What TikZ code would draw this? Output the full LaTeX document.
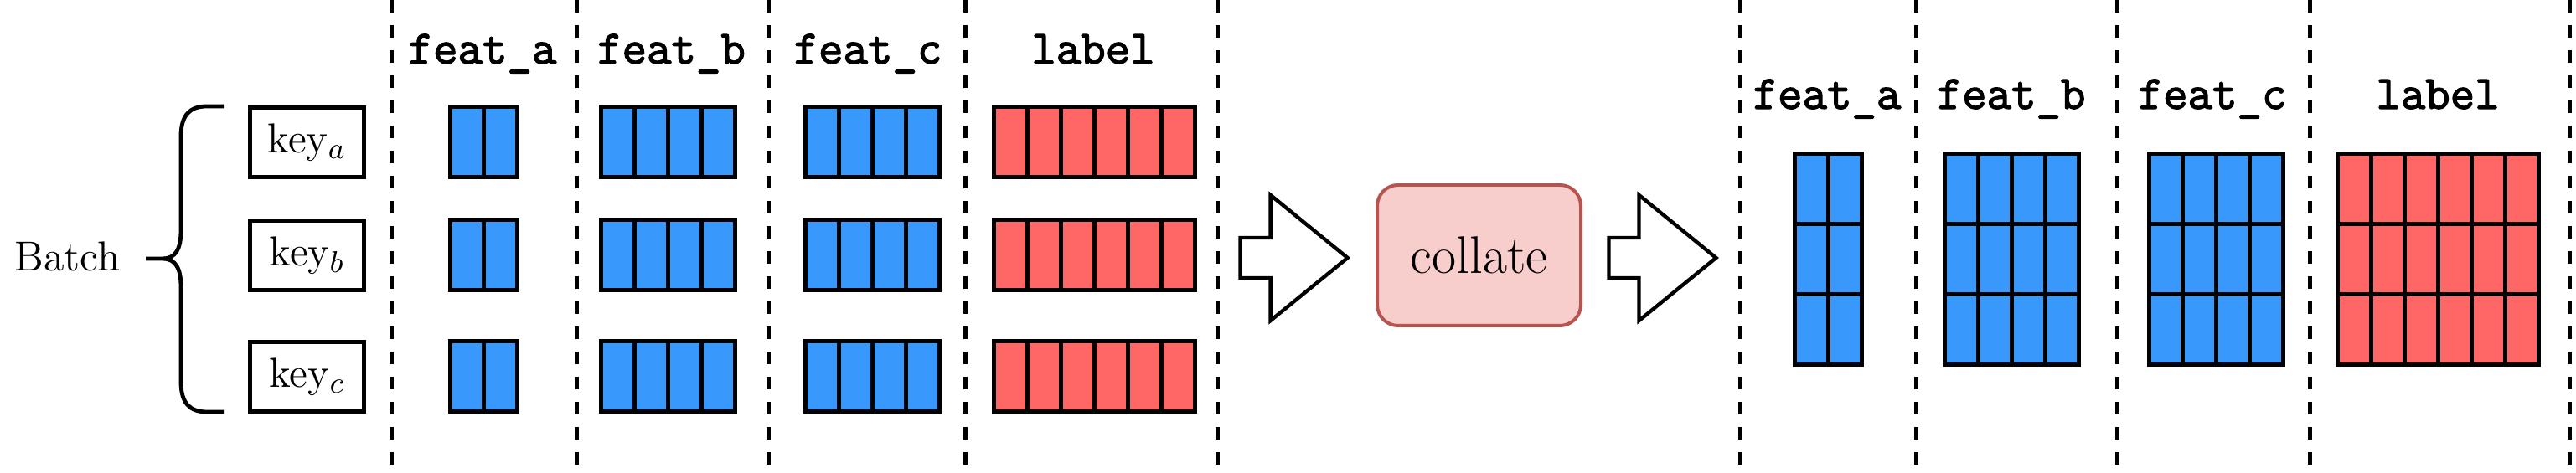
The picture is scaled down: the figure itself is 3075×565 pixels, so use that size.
\documentclass[tikz,border=0pt]{standalone}
\usepackage{fontspec}
\newfontfamily\codefont{Latin Modern Mono}[AutoFakeBold=2.2]
\definecolor{featblue}{HTML}{3898FC}
\definecolor{labelred}{HTML}{FF6666}
\definecolor{collatefill}{HTML}{F8CECC}
\definecolor{collatedraw}{HTML}{B85450}
\tikzset{
    cell/.style={draw=black, line width=1.25pt, fill=#1},
    keybox/.style={draw, line width=1.2pt, minimum width=34pt,
        minimum height=20.75pt, inner sep=0pt, font=\fontsize{12.5}{15}\selectfont},
    header/.style={anchor=base, inner sep=0pt,
        font=\codefont\bfseries\fontsize{14.3}{17}\selectfont},
    separator/.style={line width=1.25pt, dash pattern=on 3.75pt off 3.75pt},
    bigarrow/.style={draw, line width=1.1pt, fill=white, line join=miter},
    pics/blockarrow/.style={code={
        \draw[bigarrow] (0,24) -- (36,24) -- (36,75) -- (128,0)
            -- (36,-75) -- (36,-24) -- (0,-24) -- cycle;
    }}
}
% centre x, centre y, columns, rows, colour
\newcommand{\featblock}[5]{%
    \foreach \i in {1,...,#3}
        \foreach \j in {1,...,#4}
            \draw[cell=#5] ({#1+(\i-1-#3/2)*40},{#2+(\j-1-#4/2)*84}) rectangle ++(40,84);
}

\begin{document}
\begin{tikzpicture}[x=0.25pt, y=0.25pt]
        \useasboundingbox (0,0) rectangle (3075,565);
        % column separators
        \foreach \x in {467.5,688,917,1152,1453,2077.5,2287.5,2527.5,2757,3067}
            \draw[separator] (\x,565) -- (\x,0);
        % batch of samples
        \node[anchor=base, font=\fontsize{12.5}{15}\selectfont] (batch) at (80.5,241) {Batch};
        \node[keybox] (keya) at (366.5,395) {key$_a$};
        \node[keybox] (keyb) at (366.5,260) {key$_b$};
        \node[keybox] (keyc) at (366.5,115) {key$_c$};
        \draw[line width=1.2pt] (267,438) -- (247,438)
            .. controls (226,438) and (216,427) .. (216,402) -- (216,290)
            .. controls (216,268) and (210,256) .. (194,256) -- (174,256);
        \draw[line width=1.2pt] (194,256)
            .. controls (210,256) and (216,244) .. (216,222) -- (216,109)
            .. controls (216,84) and (226,73) .. (247,73) -- (267,73);
        % per-sample features
        \node[header] (lfa) at (576,489) {feat\_a};
        \node[header] (lfb) at (801.5,489) {feat\_b};
        \node[header] (lfc) at (1036,489) {feat\_c};
        \node[header] (llab) at (1305,489) {label};
        \foreach \y in {395,260,115} {
            \featblock{577.5}{\y}{2}{1}{featblue}
            \featblock{797.5}{\y}{4}{1}{featblue}
            \featblock{1041.5}{\y}{4}{1}{featblue}
            \featblock{1306.5}{\y}{6}{1}{labelred}
        }
        % collate step
        \pic (arrowin) at (1480.6,257) {blockarrow};
        \node[draw=collatedraw, fill=collatefill, line width=1pt, rounded corners=6.25pt,
            minimum width=60.75pt, minimum height=42pt,
            font=\fontsize{15.8}{19}\selectfont] (collate) at (1765.5,260) {collate};
        \pic (arrowout) at (1920.5,257) {blockarrow};
        % stacked batch
        \node[header] (rfa) at (2181,435) {feat\_a};
        \node[header] (rfb) at (2401,435) {feat\_b};
        \node[header] (rfc) at (2641,435) {feat\_c};
        \node[header] (rlab) at (2910,435) {label};
        \featblock{2182}{255}{2}{3}{featblue}
        \featblock{2401.5}{255}{4}{3}{featblue}
        \featblock{2645}{255}{4}{3}{featblue}
        \featblock{2910}{255}{6}{3}{labelred}
    \end{tikzpicture}
\end{document}
